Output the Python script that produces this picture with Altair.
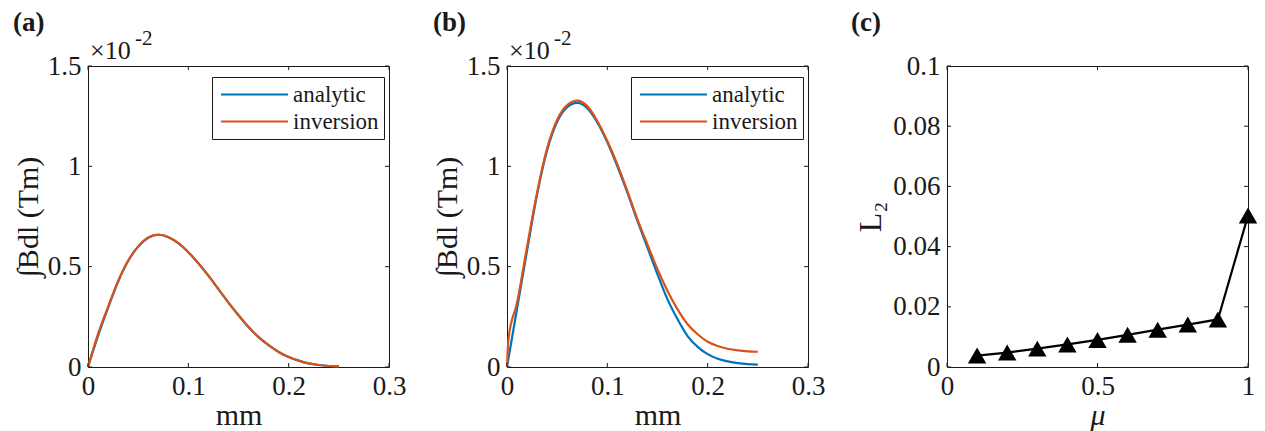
import altair as alt
import pandas as pd

FONT = "Liberation Serif"
INK = "#1a1a1a"
BLUE = "#0072BD"
ORANGE = "#D95319"
W = H = 301

# ---------------- data ----------------
# panel (a): values in units of 1e-2 Tm
a_x = [0, 0.01, 0.02, 0.03, 0.04, 0.05, 0.06, 0.07, 0.08, 0.09, 0.10, 0.11, 0.12,
       0.13, 0.14, 0.15, 0.16, 0.17, 0.18, 0.19, 0.20, 0.21, 0.22, 0.23, 0.24, 0.25]
a_analytic = [0, 0.155, 0.295, 0.425, 0.528, 0.600, 0.644, 0.659, 0.647, 0.617, 0.572,
              0.517, 0.455, 0.388, 0.321, 0.258, 0.199, 0.149, 0.109, 0.075, 0.050,
              0.032, 0.018, 0.010, 0.005, 0.003]
a_inversion = [0, 0.165, 0.300, 0.428, 0.530, 0.601, 0.645, 0.660, 0.648, 0.617, 0.572,
               0.517, 0.455, 0.388, 0.321, 0.258, 0.199, 0.149, 0.109, 0.075, 0.050,
               0.032, 0.018, 0.010, 0.005, 0.003]

# panel (b): values in units of 1e-2 Tm
b_x_analytic = [0, 0.01, 0.02, 0.03, 0.04, 0.05, 0.06, 0.07, 0.08, 0.09, 0.10, 0.11, 0.12,
                0.13, 0.14, 0.15, 0.16, 0.17, 0.18, 0.19, 0.20, 0.21, 0.22, 0.23, 0.24, 0.25]
b_analytic = [0, 0.29, 0.58, 0.86, 1.08, 1.222, 1.295, 1.316, 1.290, 1.219, 1.120, 1.000,
              0.869, 0.728, 0.595, 0.462, 0.337, 0.238, 0.154, 0.100, 0.064, 0.041,
              0.028, 0.019, 0.014, 0.012]
b_x_inversion = [0, 0.0015, 0.01, 0.02, 0.03, 0.04, 0.05, 0.06, 0.07, 0.08, 0.09, 0.10, 0.11,
                 0.12, 0.13, 0.14, 0.15, 0.16, 0.17, 0.18, 0.19, 0.20, 0.21, 0.22, 0.23,
                 0.24, 0.25]
b_inversion = [0, 0.14, 0.32, 0.60, 0.87, 1.09, 1.232, 1.305, 1.327, 1.300, 1.226, 1.126,
               1.010, 0.877, 0.736, 0.611, 0.487, 0.379, 0.287, 0.213, 0.163, 0.126,
               0.105, 0.091, 0.083, 0.078, 0.076]

# panel (c)
mu = [0.1, 0.2, 0.3, 0.4, 0.5, 0.6, 0.7, 0.8, 0.9, 1.0]
L2 = [0.0038, 0.0048, 0.0061, 0.0075, 0.0090, 0.0107, 0.0124, 0.0141, 0.0158, 0.0503]

series_names = ["analytic", "inversion"]
ab_xticks = [0, 0.1, 0.2, 0.3]
ab_yticks = [0, 0.5, 1, 1.5]
c_xticks = [0, 0.5, 1]
c_yticks = [0, 0.02, 0.04, 0.06, 0.08, 0.1]


def axis(values, title, title_pad, label_pad, italic=False, title_size=30):
    kw = dict(values=values, title=title, ticks=False, domain=False, grid=False,
              format="~g", labelFont=FONT, labelFontSize=27, labelColor=INK,
              labelPadding=label_pad, titleFont=FONT, titleFontSize=title_size,
              titleFontWeight="normal", titleColor=INK, titlePadding=title_pad,
              labelOverlap=False, labelFlush=False)
    if italic:
        kw["titleFontStyle"] = "italic"
    return alt.Axis(**kw)


def frame_ticks(X, Y, xticks, yticks):
    xt = pd.DataFrame({"x": xticks})
    yt = pd.DataFrame({"y": yticks})
    bottom = alt.Chart(xt).mark_rule(color=INK, strokeWidth=1).encode(
        x=X, y=alt.value(H), y2=alt.value(H - 4))
    top = alt.Chart(xt).mark_rule(color=INK, strokeWidth=1).encode(
        x=X, y=alt.value(0), y2=alt.value(4))
    left = alt.Chart(yt).mark_rule(color=INK, strokeWidth=1).encode(
        y=Y, x=alt.value(0), x2=alt.value(4))
    right = alt.Chart(yt).mark_rule(color=INK, strokeWidth=1).encode(
        y=Y, x=alt.value(W), x2=alt.value(W - 4))
    return [bottom, top, left, right]


def label_text(txt, xpos, ypos, size, bold=False):
    return alt.Chart(pd.DataFrame({"t": [txt]})).mark_text(
        font=FONT, fontSize=size, fontWeight="bold" if bold else "normal",
        align="left", baseline="top", color=INK).encode(
        text="t:N", x=alt.value(xpos), y=alt.value(ypos))


def bdl_panel(xa, ya, xi, yi, tag, tag_x):
    df = pd.concat([
        pd.DataFrame({"x": xa, "y": ya, "series": series_names[0]}),
        pd.DataFrame({"x": xi, "y": yi, "series": series_names[1]}),
    ])
    X = alt.X("x:Q", scale=alt.Scale(domain=[0, 0.3], nice=False),
              axis=axis(ab_xticks, "mm", 1, 6))
    Y = alt.Y("y:Q", scale=alt.Scale(domain=[0, 1.5], nice=False),
              axis=axis(ab_yticks, "∫Bdl (Tm)", 4, 7))
    lines = alt.Chart(df).mark_line(strokeWidth=2.2, interpolate="monotone").encode(
        x=X, y=Y,
        color=alt.Color("series:N",
                        scale=alt.Scale(domain=series_names, range=[BLUE, ORANGE]),
                        legend=alt.Legend(
                            title=None, orient="none", legendX=124, legendY=11,
                            direction="vertical",
                            strokeColor=INK, fillColor="white", padding=5,
                            symbolType="M-3,0L3,0", symbolSize=500,
                            symbolStrokeWidth=2.2, symbolOffset=25,
                            labelFont=FONT, labelFontSize=23, labelColor=INK,
                            labelOffset=26, rowPadding=2)),
    )
    layers = [lines] + frame_ticks(X, Y, ab_xticks, ab_yticks) + [
        label_text(tag, tag_x, -56, 27, bold=True),
        label_text("×10", 2, -28, 26),
        label_text("-2", 47, -38, 21),
    ]
    return alt.layer(*layers).properties(width=W, height=H)


panel_a = bdl_panel(a_x, a_analytic, a_x, a_inversion, "(a)", -75)
panel_b = bdl_panel(b_x_analytic, b_analytic, b_x_inversion, b_inversion, "(b)", -74)

cdf = pd.DataFrame({"x": mu, "y": L2})
Xc = alt.X("x:Q", scale=alt.Scale(domain=[0, 1], nice=False),
           axis=axis(c_xticks, "μ", 1, 6, italic=True))
Yc = alt.Y("y:Q", scale=alt.Scale(domain=[0, 0.1], nice=False),
           axis=axis(c_yticks, "L₂", 5, 7, title_size=32))
c_line = alt.Chart(cdf).mark_line(
    color="black", strokeWidth=2.2,
    point=alt.OverlayMarkDef(shape="triangle-up", size=340, filled=True,
                             color="black", opacity=1)).encode(x=Xc, y=Yc)
panel_c = alt.layer(
    *([c_line] + frame_ticks(Xc, Yc, c_xticks, c_yticks)
      + [label_text("(c)", -96, -56, 27, bold=True)])
).properties(width=W, height=H)

chart = alt.hconcat(panel_a, panel_b, panel_c, spacing=24).resolve_scale(
    color="independent").resolve_legend(color="independent").properties(
    padding={"left": 12, "top": 8, "right": 5, "bottom": 5}
).configure_view(stroke=INK, strokeWidth=1).configure_legend(labelLimit=300)

chart.save("out.html", embed_options={"renderer": "svg", "actions": False})
